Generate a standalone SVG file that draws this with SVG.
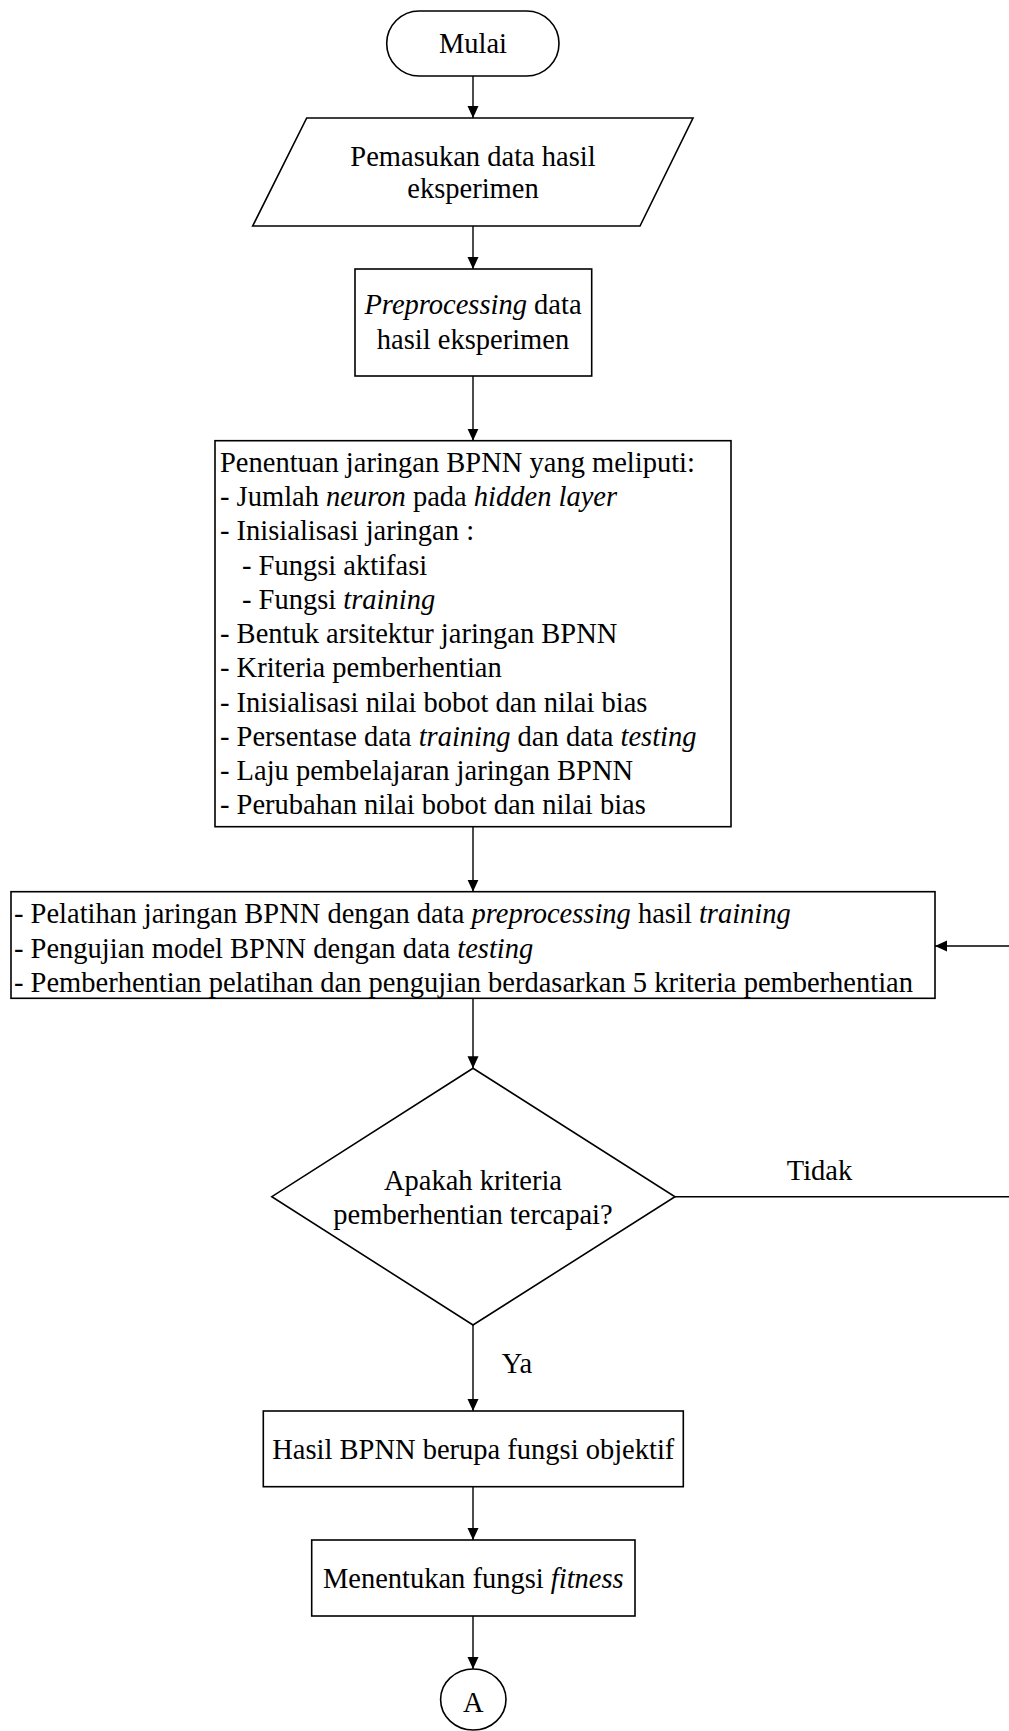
<svg xmlns="http://www.w3.org/2000/svg" width="1009" height="1731" viewBox="0 0 1009 1731">
<style>
.s{fill:#fff;stroke:#000;stroke-width:1.6}
.c{fill:none;stroke:#000;stroke-width:1.4}
text{font-family:"Liberation Serif","Times New Roman",serif;font-size:28.5px;fill:#000}
.m{text-anchor:middle}
.i{font-style:italic}
</style>
<defs>
<marker id="ah" markerUnits="userSpaceOnUse" markerWidth="13" markerHeight="12" refX="12" refY="5.5" orient="auto">
<path d="M0,0 L12,5.5 L0,11 z" fill="#000"/>
</marker>
</defs>
<rect width="1009" height="1731" fill="#fff"/>
<g id="connectors">
<line class="c" x1="473" y1="76" x2="473" y2="118" marker-end="url(#ah)"/>
<line class="c" x1="473" y1="226" x2="473" y2="269" marker-end="url(#ah)"/>
<line class="c" x1="473" y1="376" x2="473" y2="440.7" marker-end="url(#ah)"/>
<line class="c" x1="473" y1="826.7" x2="473" y2="891.7" marker-end="url(#ah)"/>
<line class="c" x1="473" y1="998.3" x2="473" y2="1068.3" marker-end="url(#ah)"/>
<line class="c" x1="473" y1="1325" x2="473" y2="1411" marker-end="url(#ah)"/>
<line class="c" x1="473" y1="1486.7" x2="473" y2="1540" marker-end="url(#ah)"/>
<line class="c" x1="473" y1="1616" x2="473" y2="1669" marker-end="url(#ah)"/>
<path class="c" d="M675,1196.7 H1012 V946 H935" marker-end="url(#ah)"/>
<text x="819.5" y="1180" class="m">Tidak</text>
<text x="501.7" y="1373">Ya</text>
</g>
<g id="start">
<rect class="s" x="386.7" y="11" width="172.3" height="65" rx="32.5" ry="32.5"/>
<text x="473" y="52.5" class="m">Mulai</text>
</g>
<g id="input">
<polygon class="s" points="306.7,118 693,118 640,226 252.7,226"/>
<text x="473" y="165.5" class="m">Pemasukan data hasil</text>
<text x="473" y="198" class="m">eksperimen</text>
</g>
<g id="preprocessing">
<rect class="s" x="355" y="269" width="236.7" height="107"/>
<text x="473" y="314" class="m"><tspan class="i">Preprocessing</tspan> data</text>
<text x="473" y="348.5" class="m">hasil eksperimen</text>
</g>
<g id="bpnn-setup">
<rect class="s" x="215" y="440.7" width="516" height="386"/>
<text x="220" y="471.7">Penentuan jaringan BPNN yang meliputi:</text>
<text x="220" y="506">- Jumlah <tspan class="i">neuron</tspan> pada <tspan class="i">hidden layer</tspan></text>
<text x="220" y="540.2">- Inisialisasi jaringan :</text>
<text x="242" y="574.5">- Fungsi aktifasi</text>
<text x="242" y="608.7">- Fungsi <tspan class="i">training</tspan></text>
<text x="220" y="643">- Bentuk arsitektur jaringan BPNN</text>
<text x="220" y="677.3">- Kriteria pemberhentian</text>
<text x="220" y="711.5">- Inisialisasi nilai bobot dan nilai bias</text>
<text x="220" y="745.8">- Persentase data <tspan class="i">training</tspan> dan data <tspan class="i">testing</tspan></text>
<text x="220" y="780">- Laju pembelajaran jaringan BPNN</text>
<text x="220" y="814.3">- Perubahan nilai bobot dan nilai bias</text>
</g>
<g id="training">
<rect class="s" x="11" y="891.7" width="924" height="106.6"/>
<text x="14" y="923">- Pelatihan jaringan BPNN dengan data <tspan class="i">preprocessing</tspan> hasil <tspan class="i">training</tspan></text>
<text x="14" y="957.5">- Pengujian model BPNN dengan data <tspan class="i">testing</tspan></text>
<text x="14" y="992">- Pemberhentian pelatihan dan pengujian berdasarkan 5 kriteria pemberhentian</text>
</g>
<g id="decision">
<polygon class="s" points="473,1068.3 675,1196.7 473,1325 271.8,1196.7"/>
<text x="473" y="1190" class="m">Apakah kriteria</text>
<text x="473" y="1223.5" class="m">pemberhentian tercapai?</text>
</g>
<g id="result">
<rect class="s" x="263.3" y="1411" width="420" height="75.7"/>
<text x="473.3" y="1459" class="m">Hasil BPNN berupa fungsi objektif</text>
</g>
<g id="fitness">
<rect class="s" x="311.7" y="1540" width="323.3" height="76"/>
<text x="473.3" y="1588.3" class="m">Menentukan fungsi <tspan class="i">fitness</tspan></text>
</g>
<g id="connector-a">
<ellipse class="s" cx="473.3" cy="1699.5" rx="32.7" ry="30.5"/>
<text x="473.3" y="1711.5" class="m">A</text>
</g>
</svg>
